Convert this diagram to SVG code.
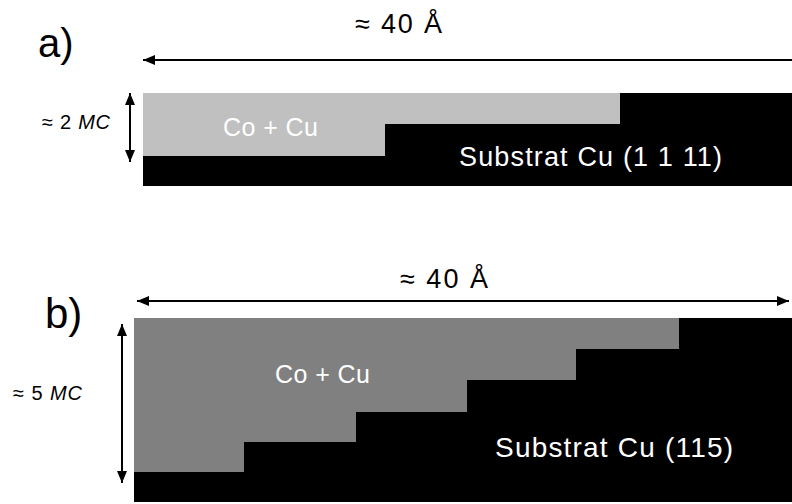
<svg xmlns="http://www.w3.org/2000/svg" width="792" height="504" viewBox="0 0 792 504">
<defs>
<marker id="ah" viewBox="0 0 12 10" refX="12" refY="5" markerWidth="12" markerHeight="10" markerUnits="userSpaceOnUse" orient="auto-start-reverse">
<path d="M0,0 L12,5 L0,10 Z" fill="#000"/>
</marker>
</defs>
<style>
text{font-family:"Liberation Sans",Arial,sans-serif;}
.lbl{fill:#000;}
.wt{fill:#fff;}
.dim{stroke:#000;stroke-width:2;fill:none;}
</style>
<rect width="792" height="504" fill="#fff"/>
<g id="panel-a">
<rect x="143" y="93" width="649" height="93" fill="#000"/>
<polygon points="143,93 620,93 620,124 385,124 385,156 143,156" fill="#c0c0c0"/>
<text x="38" y="57" font-size="40" class="lbl">a)</text>
<text x="223" y="136" font-size="25" class="wt" textLength="95">Co + Cu</text>
<text x="459" y="166" font-size="27" class="wt" textLength="263">Substrat Cu (1 1 11)</text>
<text x="42" y="129" font-size="20" class="lbl" textLength="68">≈ 2 <tspan font-style="italic">MC</tspan></text>
<text x="355" y="33" font-size="27" class="lbl" textLength="87">≈ 40 Å</text>
</g>
<g id="panel-b">
<rect x="134" y="318" width="658" height="184" fill="#000"/>
<polygon points="134,318 679,318 679,349 576,349 576,380 467,380 467,412 356,412 356,442 244,442 244,472 134,472" fill="#808080"/>
<text x="45" y="328" font-size="42" class="lbl">b)</text>
<text x="275" y="383" font-size="25" class="wt" textLength="95">Co + Cu</text>
<text x="495" y="457" font-size="28" class="wt" textLength="238">Substrat Cu (115)</text>
<text x="13" y="400" font-size="20" class="lbl" textLength="69">≈ 5 <tspan font-style="italic">MC</tspan></text>
<text x="400" y="288" font-size="27" class="lbl" textLength="88">≈ 40 Å</text>
</g>
<g id="connectors">
<line x1="792" y1="60" x2="143" y2="60" class="dim" marker-end="url(#ah)"/>
<line x1="130" y1="93" x2="130" y2="162" class="dim" marker-start="url(#ah)" marker-end="url(#ah)"/>
<line x1="137" y1="301" x2="789" y2="301" class="dim" marker-start="url(#ah)" marker-end="url(#ah)"/>
<line x1="122" y1="324" x2="122" y2="483" class="dim" marker-start="url(#ah)" marker-end="url(#ah)"/>
</g>
</svg>
